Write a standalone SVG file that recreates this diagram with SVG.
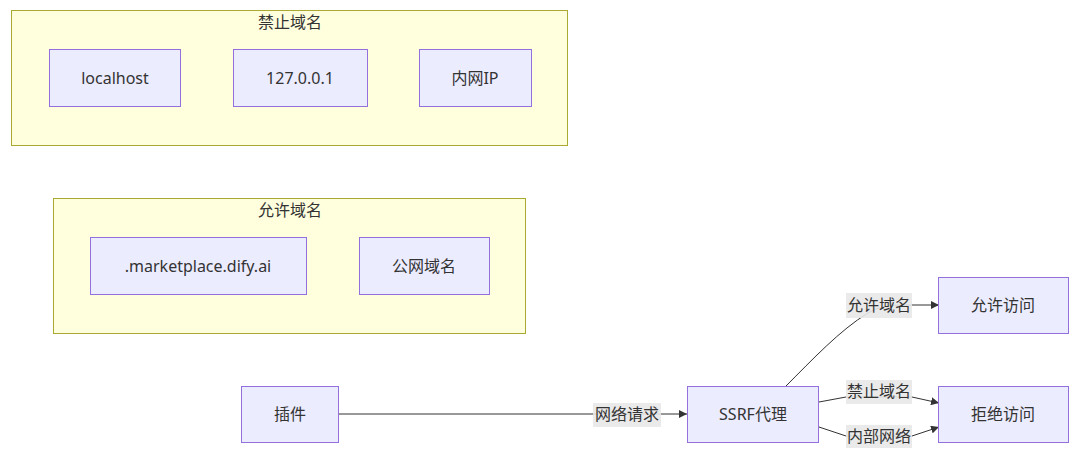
<svg xmlns="http://www.w3.org/2000/svg" width="1080" height="453" viewBox="0 0 1080 453">
<defs>
<marker id="arr" viewBox="0 0 10 10" refX="10" refY="5" markerWidth="8" markerHeight="8" markerUnits="userSpaceOnUse" orient="auto">
<path d="M0,0 L10,5 L0,10 z" fill="#333"/>
</marker>
<style>
.cluster rect{fill:#ffffde;stroke:#aaaa33;stroke-width:1}
.node rect{fill:#ececff;stroke:#9370db;stroke-width:1}
text{font-family:"Noto Sans","Noto Sans CJK SC",sans-serif;font-size:16px;fill:#333;text-anchor:middle;dominant-baseline:central}
.edge{fill:none;stroke:#333;stroke-width:1;marker-end:url(#arr)}
.lbl{fill:#e8e8e8;opacity:0.9}
</style>
</defs>
<rect width="1080" height="453" fill="#fff"/>
<g id="cluster-forbidden" class="cluster">
<rect x="11.5" y="10.5" width="556" height="135"/>
<text x="290" y="22">禁止域名</text>
</g>
<g id="cluster-allowed" class="cluster">
<rect x="53.5" y="198.5" width="472" height="135"/>
<text x="290" y="210">允许域名</text>
</g>
<g id="connectors">
<path class="edge" d="M339,414 L687,414"/>
<path class="edge" d="M786,386 C812,360 840,330 868,313 Q880,305 900,305 L939,305"/>
<path class="edge" d="M819,402 L846,397 L912,397 L939,403"/>
<path class="edge" d="M819,427 L846,436 L912,436 L939,427"/>
<rect class="lbl" x="593" y="403" width="68" height="24"/>
<text x="627" y="414">网络请求</text>
<rect class="lbl" x="846" y="293" width="66" height="25"/>
<text x="879" y="305">允许域名</text>
<rect class="lbl" x="846" y="380" width="66" height="24"/>
<text x="879" y="391">禁止域名</text>
<rect class="lbl" x="846" y="425" width="66" height="23"/>
<text x="879" y="436">内部网络</text>
</g>
<g id="localhost" class="node"><rect x="49.5" y="49.5" width="131" height="57"/><text x="115" y="78">localhost</text></g>
<g id="loopback" class="node"><rect x="233.5" y="49.5" width="134" height="57"/><text x="300" y="78">127.0.0.1</text></g>
<g id="intranet-ip" class="node"><rect x="419.5" y="49.5" width="112" height="57"/><text x="475" y="78">内网IP</text></g>
<g id="marketplace" class="node"><rect x="90.5" y="237.5" width="216" height="57"/><text x="198" y="266">.marketplace.dify.ai</text></g>
<g id="public-domain" class="node"><rect x="359.5" y="237.5" width="130" height="57"/><text x="424" y="266">公网域名</text></g>
<g id="plugin" class="node"><rect x="241.5" y="386.5" width="97" height="56"/><text x="290" y="414">插件</text></g>
<g id="ssrf-proxy" class="node"><rect x="687.5" y="386.5" width="131" height="56"/><text x="753" y="414">SSRF代理</text></g>
<g id="allow-access" class="node"><rect x="938.5" y="277.5" width="130" height="56"/><text x="1003" y="305">允许访问</text></g>
<g id="deny-access" class="node"><rect x="938.5" y="386.5" width="130" height="56"/><text x="1003" y="414">拒绝访问</text></g>
</svg>
